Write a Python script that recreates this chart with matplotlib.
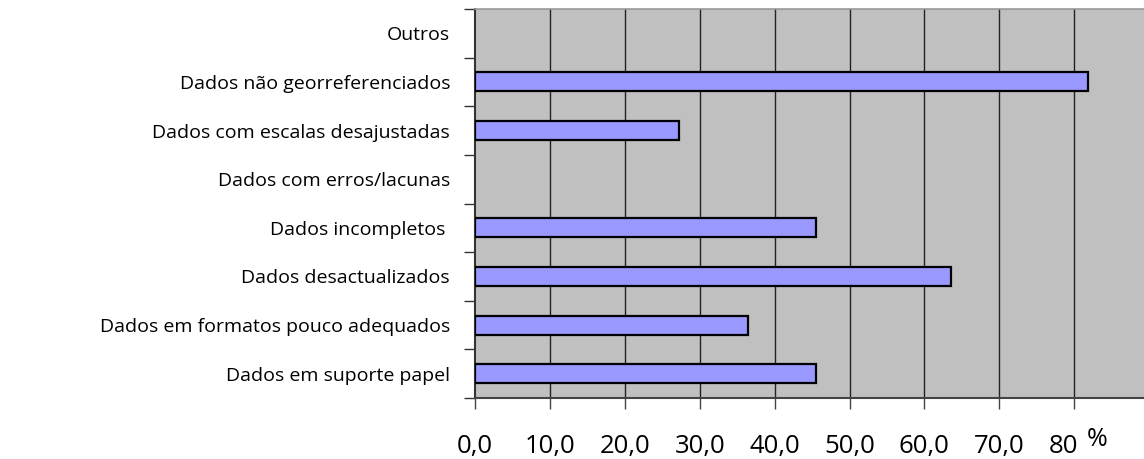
import matplotlib
matplotlib.use("Agg")
import matplotlib.pyplot as plt
import matplotlib.transforms as mtransforms
import numpy as np

categories = [
    "Dados em suporte papel",
    "Dados em formatos pouco adequados",
    "Dados desactualizados",
    "Dados incompletos ",
    "Dados com erros/lacunas",
    "Dados com escalas desajustadas",
    "Dados não georreferenciados",
    "Outros",
]
values = [45.5, 36.4, 63.6, 45.5, 0.0, 27.3, 81.8, 0.0]
xticks = [0, 10, 20, 30, 40, 50, 60, 70, 80]
xtick_labels = ["0,0", "10,0", "20,0", "30,0", "40,0", "50,0", "60,0", "70,0", "80"]
unit_label = "%"

plt.rcParams['font.family'] = ['Open Sans', 'DejaVu Sans']

W, H = 1144, 459
fig = plt.figure(figsize=(W / 100, H / 100), dpi=100)
left, right, top, bottom = 475, 1144, 9, 398
ax = fig.add_axes([left / W, 1 - bottom / H, (right - left) / W, (bottom - top) / H])
ax.set_facecolor("#C0C0C0")

n = len(categories)
y = np.arange(n)
edges = ["black" if v > 0 else "none" for v in values]
ax.barh(y, values, height=0.39, color="#9999FF", edgecolor=edges, linewidth=1.6, zorder=3)

ax.set_xlim(0, (right - left) / 74.9 * 10)
ax.set_ylim(-0.5, n - 0.5)

for xv in xticks[1:]:
    ax.axvline(xv, color="#222222", linewidth=1.0, zorder=1)

ax.set_yticks(y)
ax.set_yticklabels(categories, fontsize=14)
ax.set_yticks(np.arange(-0.5, n, 1.0), minor=True)
ax.tick_params(axis="y", which="major", length=0, pad=18)
ax.tick_params(axis="y", which="minor", length=8, width=1.0, color="#333333")

ax.set_xticks(xticks)
ax.set_xticklabels(xtick_labels, fontsize=18.5)
ax.tick_params(axis="x", which="major", length=8, width=1.0, color="#444444", pad=18)

lbls = ax.get_xticklabels()
off = mtransforms.ScaledTranslation(-11 / 100, 0, fig.dpi_scale_trans)
lbls[-1].set_transform(lbls[-1].get_transform() + off)

fig.text(1097 / W, 1 - 440 / H, unit_label, fontsize=18, ha="center", va="center")

ax.spines["right"].set_visible(False)
ax.spines["top"].set_color("#999999")
ax.spines["top"].set_linewidth(1.2)
ax.spines["left"].set_color("#333333")
ax.spines["left"].set_linewidth(1.5)
ax.spines["bottom"].set_color("#444444")
ax.spines["bottom"].set_linewidth(1.5)

fig.savefig("out.png", dpi=100)
